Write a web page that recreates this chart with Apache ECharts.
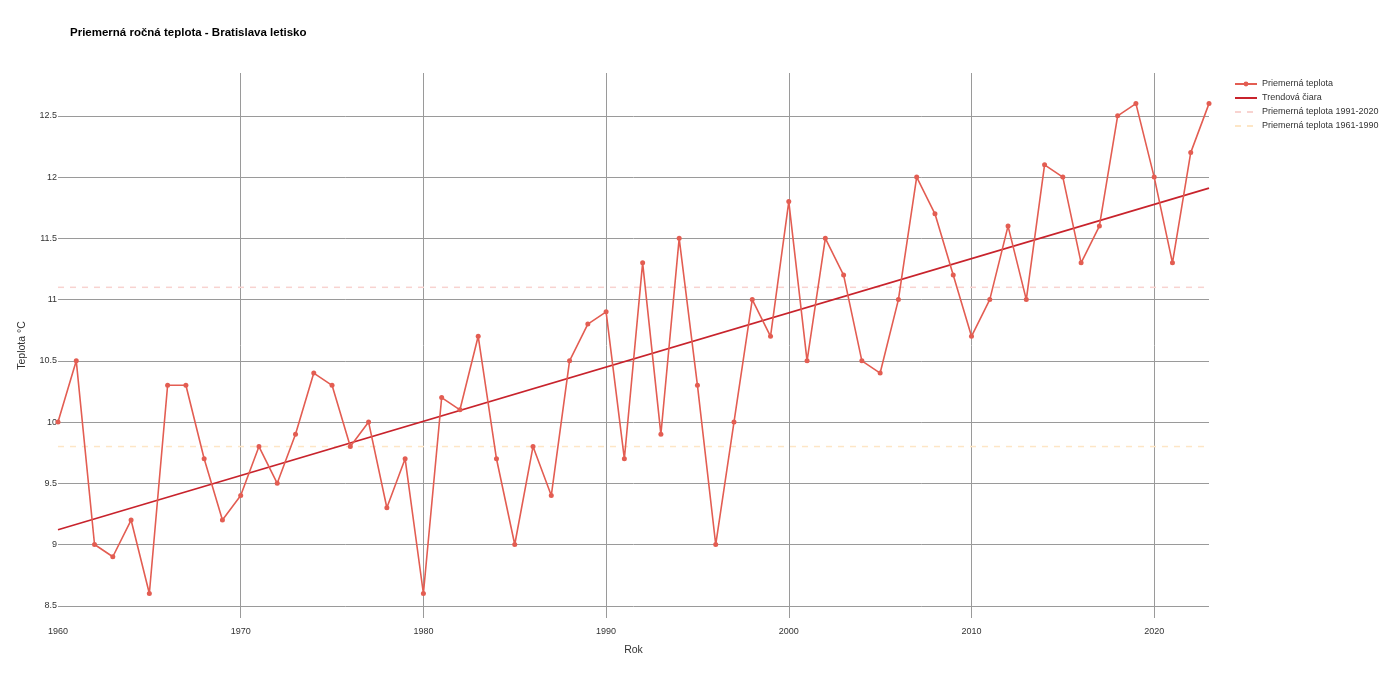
<!DOCTYPE html>
<html><head><meta charset="utf-8">
<script src="https://cdn.jsdelivr.net/npm/echarts@6/dist/echarts.min.js"></script>
<style>html,body{margin:0;padding:0;background:#fff}#c{width:1387px;height:683px}</style>
</head><body><div id="c"></div>
<script>
const years = [1960,1961,1962,1963,1964,1965,1966,1967,1968,1969,1970,1971,1972,1973,1974,1975,1976,1977,1978,1979,1980,1981,1982,1983,1984,1985,1986,1987,1988,1989,1990,1991,1992,1993,1994,1995,1996,1997,1998,1999,2000,2001,2002,2003,2004,2005,2006,2007,2008,2009,2010,2011,2012,2013,2014,2015,2016,2017,2018,2019,2020,2021,2022,2023];
const temps = [10.0,10.5,9.0,8.9,9.2,8.6,10.3,10.3,9.7,9.2,9.4,9.8,9.5,9.9,10.4,10.3,9.8,10.0,9.3,9.7,8.6,10.2,10.1,10.7,9.7,9.0,9.8,9.4,10.5,10.8,10.9,9.7,11.3,9.9,11.5,10.3,9.0,10.0,11.0,10.7,11.8,10.5,11.5,11.2,10.5,10.4,11.0,12.0,11.7,11.2,10.7,11.0,11.6,11.0,12.1,12.0,11.3,11.6,12.5,12.6,12.0,11.3,12.2,12.6];
const trendYears = [1960, 2023];
const trendValues = [9.12, 11.91];
const normal1991_2020 = 11.1;
const normal1961_1990 = 9.8;
const yTicks = [8.5,9,9.5,10,10.5,11,11.5,12,12.5];
const xTicks = [1960,1970,1980,1990,2000,2010,2020];
const xGridLines = [1970,1980,1990,2000,2010,2020];
const seriesNames = ['Priemerná teplota','Trendová čiara','Priemerná teplota 1991-2020','Priemerná teplota 1961-1990'];

const chart = echarts.init(document.getElementById('c'), null, {renderer:'canvas'});
const font = 'Arial, "Liberation Sans", sans-serif';
const hidden = {opacity: 0};
chart.setOption({
  animation: false,
  textStyle: {fontFamily: font},
  title: {text: 'Priemerná ročná teplota - Bratislava letisko', left: 65, top: 22,
    textStyle: {fontSize: 11.5, fontWeight: 'bold', color: '#000', fontFamily: font}},
  legend: {orient: 'vertical', left: 1229, top: 73, itemGap: 2, itemWidth: 22, itemHeight: 6,
    textStyle: {fontSize: 9, color: '#333', fontFamily: font, lineHeight: 12},
    data: [
      {name: seriesNames[0]},
      {name: seriesNames[1], itemStyle: hidden},
      {name: seriesNames[2], itemStyle: hidden},
      {name: seriesNames[3], itemStyle: hidden}
    ]},
  grid: {left: 58, right: 178, top: 73, bottom: 65},
  xAxis: {type: 'value', min: 1960, max: 2023,
    name: 'Rok', nameLocation: 'middle', nameGap: 27,
    nameTextStyle: {fontSize: 10.5, color: '#333', fontFamily: font},
    axisLine: {show: false}, axisTick: {show: false},
    axisLabel: {fontSize: 9, color: '#333', margin: 9,
      customValues: xTicks, formatter: v => String(v)},
    splitLine: {show: false}},
  yAxis: {type: 'value', min: 8.4, max: 12.85,
    name: 'Teplota °C', nameLocation: 'middle', nameGap: 30,
    nameTextStyle: {fontSize: 10.5, color: '#333', fontFamily: font},
    axisLine: {show: false},
    axisTick: {show: false, customValues: yTicks},
    axisLabel: {fontSize: 9, color: '#333', margin: 1, customValues: yTicks, formatter: v => String(v)},
    splitLine: {show: false}},
  series: [
    {name: seriesNames[0], type: 'line', data: years.map((y,i)=>[y,temps[i]]),
      symbol: 'circle', symbolSize: 5, showAllSymbol: true,
      itemStyle: {color: '#e35d52'}, lineStyle: {color: '#e35d52', width: 1.6}, z: 4,
      markLine: {silent: true, symbol: 'none', label: {show: false},
        lineStyle: {color: '#9a9a9a', width: 1, type: 'solid'}, z: 1,
        data: yTicks.map(v => ({yAxis: v})).concat(xGridLines.map(v => ({xAxis: v})))}},
    {name: seriesNames[1], type: 'line', data: trendYears.map((y,i)=>[y,trendValues[i]]),
      symbol: 'none', itemStyle: {color: '#c8232c'}, lineStyle: {color: '#c8232c', width: 1.6}, z: 3},
    {name: seriesNames[2], type: 'line', data: [[1960, normal1991_2020],[2023, normal1991_2020]],
      symbol: 'none', itemStyle: {color: '#f8d3d0'}, lineStyle: {color: '#f8d3d0', width: 1.5, type: [6,6]}, z: 2},
    {name: seriesNames[3], type: 'line', data: [[1960, normal1961_1990],[2023, normal1961_1990]],
      symbol: 'none', itemStyle: {color: '#fde6c6'}, lineStyle: {color: '#fde6c6', width: 1.5, type: [6,6]}, z: 2}
  ]
});
</script></body></html>
